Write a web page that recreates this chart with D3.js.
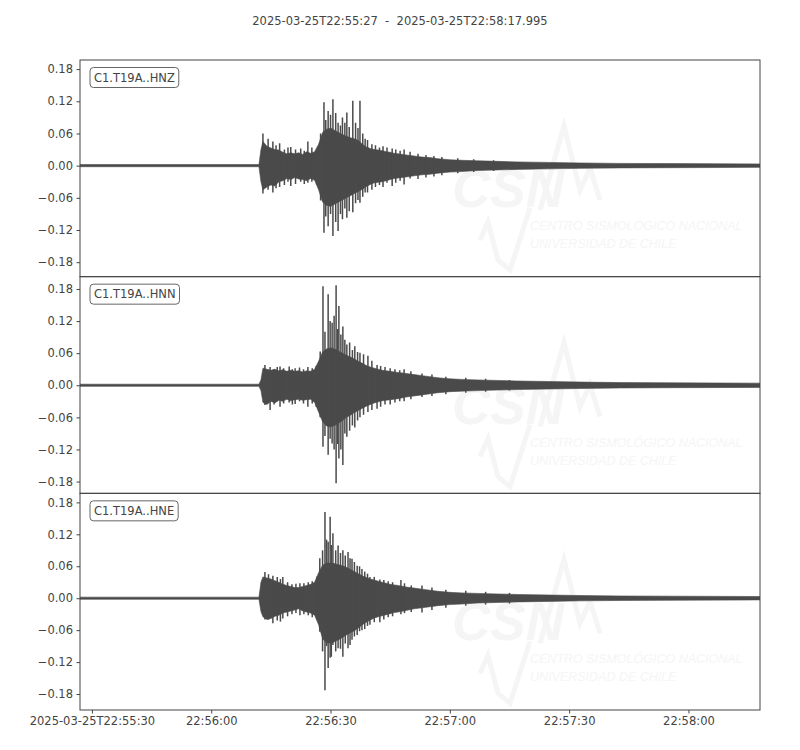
<!DOCTYPE html>
<html>
<head>
<meta charset="utf-8">
<script src="https://cdn.jsdelivr.net/npm/d3@7"></script>
<style>
  body { margin: 0; background: #fff; }
  svg { font-family: "DejaVu Sans", sans-serif; }
</style>
</head>
<body>
<svg id="chart" width="800" height="750"></svg>
<script>
// ---- data ----
var startMs = Date.UTC(2025, 2, 25, 22, 55, 27);
var durationSec = 170.995;
var titleText = '2025-03-25T22:55:27  -  2025-03-25T22:58:17.995';

var channels = ['C1.T19A..HNZ', 'C1.T19A..HNN', 'C1.T19A..HNE'];
var yDomains = [[-0.207, 0.197], [-0.202, 0.203], [-0.210, 0.197]];
var yTickValues = [-0.18, -0.12, -0.06, 0, 0.06, 0.12, 0.18];
var xTickSecs = [3, 33, 63, 93, 123, 153];
var xTickLabels = ['2025-03-25T22:55:30', '22:56:00', '22:56:30', '22:57:00', '22:57:30', '22:58:00'];

// envelope of each trace (seconds after start, upper and lower amplitude)
var secs = [0, 45, 45.5, 46, 47, 48, 49, 50, 51, 52, 53, 54, 55, 56, 57, 58, 59, 60,
  61, 62, 63, 64, 65, 66, 67, 68, 69, 70, 71, 72, 73, 74, 75, 76, 77, 78, 79, 80,
  82, 84, 86, 88, 90, 93, 96, 100, 105, 110, 118, 126, 136, 150, 171];

var hnzTop = [0.002, 0.002, 0.030, 0.045, 0.036, 0.033, 0.030, 0.029, 0.025, 0.022, 0.024, 0.022, 0.024, 0.021, 0.026, 0.023, 0.026, 0.040,
  0.062, 0.068, 0.070, 0.066, 0.062, 0.058, 0.055, 0.052, 0.050, 0.047, 0.040, 0.035, 0.032, 0.030, 0.029, 0.028, 0.026, 0.025, 0.023, 0.022,
  0.020, 0.018, 0.016, 0.015, 0.013, 0.011, 0.010, 0.009, 0.008, 0.007, 0.006, 0.005, 0.0042, 0.0038, 0.0032];
var hnzBot = [-0.002, -0.002, -0.030, -0.045, -0.040, -0.036, -0.038, -0.030, -0.028, -0.024, -0.026, -0.022, -0.025, -0.026, -0.028, -0.024, -0.027, -0.045,
  -0.068, -0.074, -0.076, -0.072, -0.068, -0.064, -0.060, -0.056, -0.052, -0.048, -0.044, -0.039, -0.035, -0.032, -0.031, -0.030, -0.028, -0.026, -0.024, -0.023,
  -0.021, -0.019, -0.017, -0.016, -0.014, -0.012, -0.011, -0.009, -0.008, -0.007, -0.006, -0.005, -0.0042, -0.0038, -0.0032];

var hnnTop = [0.002, 0.002, 0.010, 0.032, 0.030, 0.028, 0.030, 0.027, 0.029, 0.026, 0.028, 0.026, 0.027, 0.025, 0.027, 0.026, 0.030, 0.045,
  0.062, 0.068, 0.070, 0.068, 0.064, 0.060, 0.056, 0.053, 0.049, 0.045, 0.041, 0.037, 0.034, 0.032, 0.030, 0.028, 0.027, 0.026, 0.025, 0.024,
  0.022, 0.020, 0.018, 0.016, 0.014, 0.012, 0.011, 0.010, 0.009, 0.008, 0.007, 0.006, 0.005, 0.0045, 0.004];
var hnnBot = [-0.002, -0.002, -0.010, -0.032, -0.036, -0.030, -0.033, -0.028, -0.030, -0.026, -0.029, -0.027, -0.026, -0.028, -0.027, -0.026, -0.032, -0.050,
  -0.068, -0.076, -0.078, -0.075, -0.071, -0.066, -0.060, -0.056, -0.051, -0.047, -0.043, -0.039, -0.036, -0.033, -0.031, -0.029, -0.028, -0.027, -0.026, -0.025,
  -0.022, -0.020, -0.018, -0.016, -0.014, -0.012, -0.011, -0.010, -0.009, -0.008, -0.007, -0.006, -0.005, -0.0045, -0.004];

var hneTop = [0.002, 0.002, 0.030, 0.040, 0.038, 0.036, 0.033, 0.030, 0.026, 0.024, 0.022, 0.020, 0.020, 0.022, 0.024, 0.026, 0.030, 0.048,
  0.062, 0.066, 0.066, 0.065, 0.063, 0.061, 0.058, 0.054, 0.050, 0.046, 0.042, 0.039, 0.036, 0.034, 0.032, 0.030, 0.028, 0.026, 0.025, 0.024,
  0.021, 0.019, 0.017, 0.015, 0.013, 0.011, 0.010, 0.009, 0.008, 0.007, 0.006, 0.005, 0.0042, 0.0038, 0.0032];
var hneBot = [-0.002, -0.002, -0.025, -0.035, -0.040, -0.038, -0.034, -0.032, -0.028, -0.026, -0.024, -0.022, -0.020, -0.024, -0.026, -0.028, -0.032, -0.050,
  -0.076, -0.084, -0.084, -0.082, -0.078, -0.074, -0.069, -0.065, -0.061, -0.056, -0.050, -0.045, -0.041, -0.037, -0.035, -0.033, -0.031, -0.029, -0.027, -0.026,
  -0.023, -0.020, -0.018, -0.016, -0.014, -0.012, -0.011, -0.009, -0.008, -0.007, -0.006, -0.005, -0.0042, -0.0038, -0.0032];

// single swings: [seconds after start, peak, trough]
var hnzSpikes = [[46.0, 0.060, -0.052], [47.3, 0.050, -0.045], [48.5, 0.045, -0.050], [49.3, 0.038, -0.042], [50.2, 0.042, -0.040],
  [51.4, 0.030, -0.036], [52.3, 0.034, -0.030], [53.0, 0.035, -0.038], [54.2, 0.030, -0.034], [55.5, 0.032, -0.030],
  [56.4, 0.028, -0.034], [57.3, 0.045, -0.032], [58.3, 0.034, -0.030], [59.5, 0.030, -0.035], [60.5, 0.060, -0.065],
  [61.35, 0.118, -0.125], [61.8, 0.085, -0.095], [62.4, 0.102, -0.113], [63.0, 0.095, -0.090], [63.6, 0.124, -0.131],
  [64.3, 0.098, -0.105], [64.9, 0.080, -0.122], [65.5, 0.075, -0.090], [66.0, 0.090, -0.100], [66.6, 0.080, -0.080],
  [67.1, 0.099, -0.097], [67.7, 0.072, -0.085], [68.6, 0.121, -0.087], [69.3, 0.080, -0.070], [69.9, 0.070, -0.064],
  [70.4, 0.121, -0.069], [71.1, 0.060, -0.058], [71.7, 0.050, -0.050], [72.3, 0.048, -0.050], [73.4, 0.040, -0.045],
  [74.3, 0.038, -0.040], [75.3, 0.034, -0.036], [76.2, 0.036, -0.040], [77.2, 0.034, -0.032], [78.5, 0.032, -0.038],
  [79.4, 0.030, -0.032], [80.5, 0.028, -0.028], [81.5, 0.030, -0.035], [83.0, 0.026, -0.024], [85.0, 0.022, -0.025],
  [87.0, 0.020, -0.022], [89.0, 0.018, -0.020], [91.0, 0.016, -0.018], [95.0, 0.014, -0.014], [99.0, 0.012, -0.012],
  [104.0, 0.010, -0.010]];
var hnnSpikes = [[46.5, 0.038, -0.037], [47.8, 0.034, -0.046], [48.8, 0.030, -0.036], [49.6, 0.034, -0.030], [50.3, 0.035, -0.040],
  [51.2, 0.032, -0.034], [52.6, 0.035, -0.032], [53.4, 0.030, -0.036], [54.1, 0.032, -0.035], [55.2, 0.033, -0.030],
  [56.2, 0.030, -0.034], [57.3, 0.034, -0.040], [58.4, 0.032, -0.034], [59.4, 0.036, -0.040], [60.4, 0.063, -0.060],
  [61.1, 0.185, -0.115], [61.6, 0.100, -0.095], [62.4, 0.170, -0.130], [62.9, 0.120, -0.100], [63.4, 0.117, -0.109],
  [63.9, 0.130, -0.120], [64.4, 0.187, -0.183], [64.8, 0.105, -0.110], [65.1, 0.148, -0.137], [65.6, 0.095, -0.120],
  [66.1, 0.110, -0.149], [66.6, 0.085, -0.090], [67.1, 0.076, -0.096], [67.8, 0.080, -0.085], [68.5, 0.066, -0.075],
  [69.1, 0.073, -0.079], [69.8, 0.062, -0.066], [70.4, 0.061, -0.060], [71.3, 0.058, -0.055], [72.4, 0.055, -0.050],
  [73.4, 0.046, -0.046], [74.7, 0.038, -0.044], [75.6, 0.036, -0.040], [76.7, 0.034, -0.036], [78.0, 0.032, -0.036],
  [79.2, 0.030, -0.032], [80.4, 0.028, -0.030], [81.5, 0.030, -0.030], [83.2, 0.026, -0.026], [86.0, 0.022, -0.022],
  [88.5, 0.020, -0.020], [92.0, 0.016, -0.017], [97.0, 0.014, -0.014], [102.0, 0.012, -0.012], [108.0, 0.010, -0.010]];
var hneSpikes = [[46.5, 0.049, -0.040], [47.4, 0.045, -0.040], [48.5, 0.042, -0.047], [49.6, 0.040, -0.042], [50.4, 0.036, -0.044],
  [51.0, 0.040, -0.038], [52.2, 0.030, -0.034], [53.3, 0.026, -0.030], [54.3, 0.027, -0.028], [55.3, 0.028, -0.032],
  [56.3, 0.028, -0.030], [57.4, 0.030, -0.032], [58.4, 0.032, -0.036], [59.6, 0.041, -0.040], [60.3, 0.075, -0.063],
  [61.0, 0.090, -0.100], [61.6, 0.162, -0.173], [62.0, 0.110, -0.090], [62.4, 0.106, -0.131], [62.9, 0.153, -0.112],
  [63.2, 0.100, -0.110], [63.6, 0.122, -0.088], [64.3, 0.090, -0.100], [64.9, 0.099, -0.094], [65.5, 0.085, -0.095],
  [66.1, 0.090, -0.110], [66.7, 0.080, -0.085], [67.4, 0.087, -0.094], [67.9, 0.075, -0.088], [68.4, 0.074, -0.078],
  [69.0, 0.068, -0.072], [69.7, 0.061, -0.069], [70.3, 0.060, -0.062], [70.9, 0.055, -0.060], [71.6, 0.050, -0.058],
  [72.3, 0.046, -0.052], [72.9, 0.040, -0.050], [74.0, 0.040, -0.045], [75.4, 0.035, -0.045], [76.4, 0.034, -0.040],
  [77.5, 0.032, -0.036], [78.6, 0.030, -0.034], [80.7, 0.034, -0.030], [81.6, 0.028, -0.028], [83.3, 0.024, -0.026],
  [86.0, 0.024, -0.027], [88.5, 0.020, -0.022], [92.0, 0.016, -0.018], [97.0, 0.014, -0.014], [102.0, 0.012, -0.012],
  [108.0, 0.010, -0.010]];

var traces = [
  {top: hnzTop, bot: hnzBot, spikes: hnzSpikes},
  {top: hnnTop, bot: hnnBot, spikes: hnnSpikes},
  {top: hneTop, bot: hneBot, spikes: hneSpikes}
];

// ---- layout ----
var svg = d3.select('#chart');
var padding = {t: 60, r: 40, b: 40, l: 80};
var chartWidth = 800 - padding.l - padding.r;
var chartHeight = 750 - padding.t - padding.b;
var panelH = chartHeight / channels.length;
var waveColor = '#4a4a4a';
var axisColor = '#444';
var textColor = '#444';
var markColor = '#f5f5f5';
var fontSize = 11.5;

function toDate(s) { return new Date(startMs + s * 1000); }

// shrink a watermark line until it fits the wanted width
function fitText(sel, maxW) {
  var size = +sel.attr('font-size');
  while (sel.node().getComputedTextLength() > maxW && size > 6) {
    size -= 0.5;
    sel.attr('font-size', size);
  }
}

var xScale = d3.scaleUtc()
  .domain([toDate(0), toDate(durationSec)])
  .range([padding.l, padding.l + chartWidth]);

svg.append('text')
  .attr('x', 400).attr('y', 25)
  .attr('text-anchor', 'middle')
  .attr('font-size', fontSize)
  .attr('fill', textColor)
  .attr('xml:space', 'preserve')
  .style('white-space', 'pre')
  .text(titleText);

var defs = svg.append('defs');

channels.forEach(function(name, i) {
  var top = padding.t + i * panelH;
  var yScale = d3.scaleLinear().domain(yDomains[i]).range([top + panelH, top]);
  var g = svg.append('g');

  // faint agency watermark
  var wm = g.append('g').attr('fill', markColor).attr('stroke', 'none');
  var csn = wm.append('text')
    .attr('x', 452).attr('y', top + 147)
    .attr('font-size', 62).attr('font-weight', 'bold').attr('font-style', 'italic')
    .attr('font-family', 'Liberation Sans, sans-serif')
    .text('CSN');
  fitText(csn, 112);
  var mx = 440, my = top;
  wm.append('path')
    .attr('fill', 'none').attr('stroke', markColor).attr('stroke-width', 5)
    .attr('d', 'M' + (mx + 100) + ',' + (my + 150) + 'L' + (mx + 124) + ',' + (my + 66) +
      'L' + (mx + 140) + ',' + (my + 130) + 'L' + (mx + 150) + ',' + (my + 108) +
      'L' + (mx + 160) + ',' + (my + 140));
  wm.append('path')
    .attr('fill', 'none').attr('stroke', markColor).attr('stroke-width', 5)
    .attr('d', 'M' + (mx + 40) + ',' + (my + 180) + 'L' + (mx + 48) + ',' + (my + 162) +
      'L' + (mx + 58) + ',' + (my + 200) + 'L' + (mx + 70) + ',' + (my + 210) +
      'L' + (mx + 90) + ',' + (my + 148));
  var l1 = wm.append('text')
    .attr('x', 530).attr('y', top + 170)
    .attr('font-size', 16).attr('font-style', 'italic')
    .attr('font-family', 'Liberation Sans, sans-serif')
    .text('CENTRO SISMOLÓGICO NACIONAL');
  fitText(l1, 218);
  var l2 = wm.append('text')
    .attr('x', 530).attr('y', top + 188)
    .attr('font-size', +l1.attr('font-size')).attr('font-style', 'italic')
    .attr('font-family', 'Liberation Sans, sans-serif')
    .text('UNIVERSIDAD DE CHILE');

  // clip
  defs.append('clipPath').attr('id', 'clip' + i)
    .append('rect')
    .attr('x', padding.l).attr('y', top)
    .attr('width', chartWidth).attr('height', panelH);

  var tr = traces[i];
  var env = secs.map(function(s, k) { return {t: s, hi: tr.top[k], lo: tr.bot[k]}; });
  var area = d3.area()
    .x(function(d) { return xScale(toDate(d.t)); })
    .y0(function(d) { return yScale(d.lo); })
    .y1(function(d) { return yScale(d.hi); });

  var wave = g.append('g').attr('clip-path', 'url(#clip' + i + ')');
  wave.append('path')
    .datum(env)
    .attr('fill', waveColor)
    .attr('stroke', waveColor)
    .attr('stroke-width', 0.6)
    .attr('d', area);

  wave.selectAll('line.spike')
    .data(tr.spikes)
    .enter().append('line')
    .attr('class', 'spike')
    .attr('x1', function(d) { return xScale(toDate(d[0])); })
    .attr('x2', function(d) { return xScale(toDate(d[0])); })
    .attr('y1', function(d) { return yScale(d[1]); })
    .attr('y2', function(d) { return yScale(d[2]); })
    .attr('stroke', waveColor)
    .attr('stroke-width', 1.5);

  // frame
  g.append('rect')
    .attr('x', padding.l).attr('y', top)
    .attr('width', chartWidth).attr('height', panelH)
    .attr('fill', 'none')
    .attr('stroke', axisColor)
    .attr('stroke-width', 1);

  // y axis
  var yAx = g.append('g')
    .attr('transform', 'translate(' + padding.l + ',0)')
    .call(d3.axisLeft(yScale).tickValues(yTickValues).tickSize(3.5).tickPadding(3.5)
      .tickFormat(d3.format('.2f')));
  yAx.select('.domain').remove();
  yAx.selectAll('line').attr('stroke', axisColor);
  yAx.selectAll('text').attr('fill', textColor).attr('font-size', fontSize)
    .attr('font-family', '"DejaVu Sans", sans-serif');

  // channel label box
  var lbl = g.append('g').attr('transform', 'translate(' + (padding.l + 10) + ',' + (top + 7.5) + ')');
  var lt = lbl.append('text')
    .attr('x', 4).attr('y', 14)
    .attr('font-size', fontSize)
    .attr('fill', textColor)
    .text(name);
  var w = lt.node().getComputedTextLength();
  lbl.insert('rect', 'text')
    .attr('x', 0).attr('y', 0)
    .attr('width', w + 8).attr('height', 20)
    .attr('rx', 3.5)
    .attr('fill', '#fff')
    .attr('stroke', '#666')
    .attr('stroke-width', 1);
});

// time axis under last panel
var xAx = svg.append('g')
  .attr('transform', 'translate(0,' + (padding.t + chartHeight) + ')')
  .call(d3.axisBottom(xScale)
    .tickValues(xTickSecs.map(toDate))
    .tickSize(3.5).tickPadding(3.5)
    .tickFormat(function(d, i) { return xTickLabels[i]; }));
xAx.select('.domain').remove();
xAx.selectAll('line').attr('stroke', axisColor);
xAx.selectAll('text').attr('fill', textColor).attr('font-size', fontSize)
  .attr('font-family', '"DejaVu Sans", sans-serif');
</script>
</body>
</html>
